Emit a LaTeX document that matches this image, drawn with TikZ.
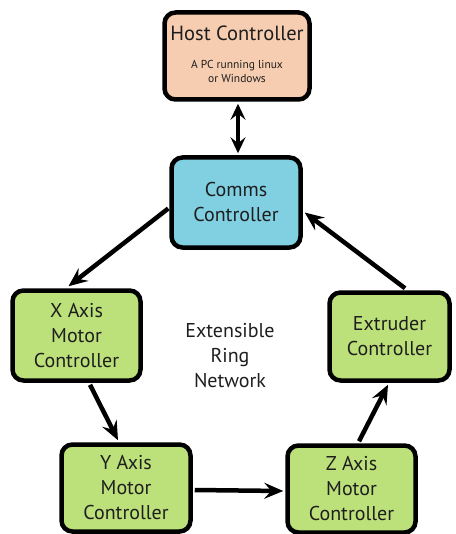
\documentclass[tikz,border=0pt]{standalone}
\usepackage{fontspec}
\setmainfont{PT Sans}
\usetikzlibrary{arrows.meta}
\definecolor{hostfill}{HTML}{F6CDB0}
\definecolor{commsfill}{HTML}{80D0E2}
\definecolor{greenfill}{HTML}{BDE17A}
\definecolor{txt}{HTML}{1E1E1E}
\begin{document}
\begin{tikzpicture}[x=1pt,y=-1pt,
  box/.style={draw=black, line width=4.5pt, rounded corners=11pt, inner sep=0pt, align=center,
    font=\fontsize{20}{25}\selectfont, text=txt},
  arr/.style={line width=4.5pt, -{Stealth[length=19pt,width=16pt,inset=7pt]}},
  darr/.style={line width=4.5pt, {Stealth[length=16pt,width=15pt,inset=6pt]}-{Stealth[length=16pt,width=15pt,inset=6pt]}}]
\useasboundingbox (0,0) rectangle (455,534);
\node[box, fill=hostfill, minimum width=145pt, minimum height=87pt] (host) at (237,56) {};
\node[font=\fontsize{20.5}{22}\selectfont, text=txt] (hostt) at (237,33) {Host Controller};
\node[font=\fontsize{11.5}{14}\selectfont, align=center, text=txt] (hostsub) at (237,71) {A PC running linux\\or Windows};
\node[box, fill=commsfill, minimum width=129pt, minimum height=90pt] (comms) at (236,202.5) {Comms\\Controller};
\node[box, fill=greenfill, minimum width=128pt, minimum height=90pt] (xm) at (76.5,335.5) {X Axis\\Motor\\Controller};
\node[box, fill=greenfill, minimum width=120pt, minimum height=88pt] (ext) at (389.5,336.5) {Extruder\\Controller};
\node[box, fill=greenfill, minimum width=129pt, minimum height=87pt] (ym) at (126,488) {Y Axis\\Motor\\Controller};
\node[box, fill=greenfill, minimum width=128pt, minimum height=87pt] (zm) at (351.5,489) {Z Axis\\Motor\\Controller};
\node[align=center, font=\fontsize{20}{25}\selectfont, text=txt] (ring) at (230,356) {Extensible\\Ring\\Network};
\draw[darr] ([xshift=1pt,yshift=-2pt]host.south) -- ([xshift=2pt,yshift=2pt]comms.north);
\draw[arr] ([xshift=-1pt,yshift=-6pt]comms.west) -- ([xshift=-8pt,yshift=2pt]xm.north);
\draw[arr] ([xshift=15.5pt,yshift=2pt]ext.north) -- ([xshift=2pt,yshift=-10pt]comms.east);
\draw[arr] ([xshift=13.5pt,yshift=-2pt]xm.south) -- ([xshift=-8pt,yshift=2pt]ym.north);
\draw[arr] ([xshift=2pt,yshift=-2pt]ym.east) -- ([xshift=-2pt,yshift=-2pt]zm.west);
\draw[arr] ([xshift=7.5pt,yshift=2pt]zm.north) -- ([xshift=-1.5pt,yshift=-2pt]ext.south);
\end{tikzpicture}
\end{document}
